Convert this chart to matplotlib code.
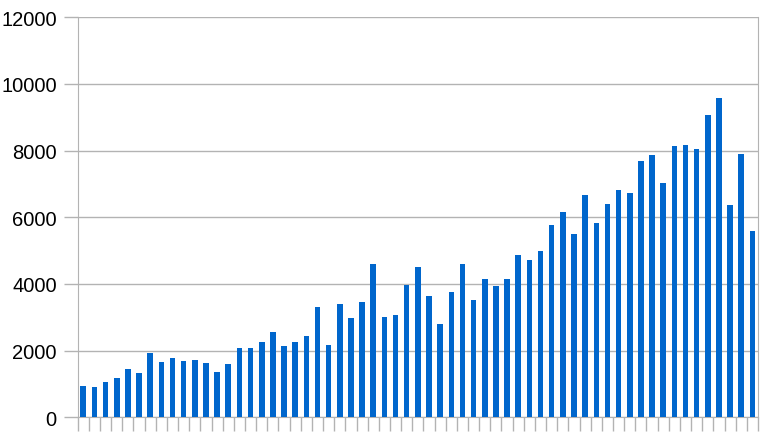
import numpy as np
import matplotlib.pyplot as plt

#-------------------------------------------------------------------------------
values = [930, 910, 1070, 1170, 1440, 1330, 1940, 1670, 1780, 1680,
          1720, 1630, 1360, 1590, 2070, 2080, 2250, 2570, 2130, 2270,
          2440, 3300, 2170, 3410, 2990, 3450, 4600, 3020, 3060, 3970,
          4500, 3650, 2810, 3760, 4590, 3530, 4140, 3930, 4160, 4880,
          4710, 4990, 5770, 6160, 5500, 6680, 5840, 6390, 6820, 6740,
          7680, 7870, 7020, 8150, 8160, 8040, 9060, 9590, 6370, 7890,
          5580]
y_ticks = [0, 2000, 4000, 6000, 8000, 10000, 12000]
#-------------------------------------------------------------------------------
grid_color = '#b3b3b3'
bar_color  = '#0066cc'

fig = plt.figure(figsize=(7.68, 4.35), dpi=100)
ax = fig.add_axes([77.7/768, (435-418.3)/435, (758-77.7)/768, (418.3-18.3)/435])

xx = np.arange(len(values))
ax.bar(xx, values, width=0.5, color=bar_color, zorder=3)

ax.set_xlim(-0.5, len(values) - 0.5)
ax.set_ylim(0, 12000)
ax.set_yticks(y_ticks)
ax.set_yticklabels([str(v) for v in y_ticks], fontsize=14.5, family='Liberation Sans')
ax.yaxis.grid(True, color=grid_color, linewidth=1.0, zorder=0)

ax.set_xticks([])
ax.set_xticks(np.arange(len(values) + 1) - 0.5, minor=True)
ax.tick_params(axis='x', which='minor', length=10, color=grid_color, width=1)
ax.tick_params(axis='y', length=10, color=grid_color, width=1, pad=5)

for s in ['left', 'right', 'bottom']:
    ax.spines[s].set_color(grid_color)
ax.spines['top'].set_visible(False)

fig.savefig('out.png', dpi=100)
